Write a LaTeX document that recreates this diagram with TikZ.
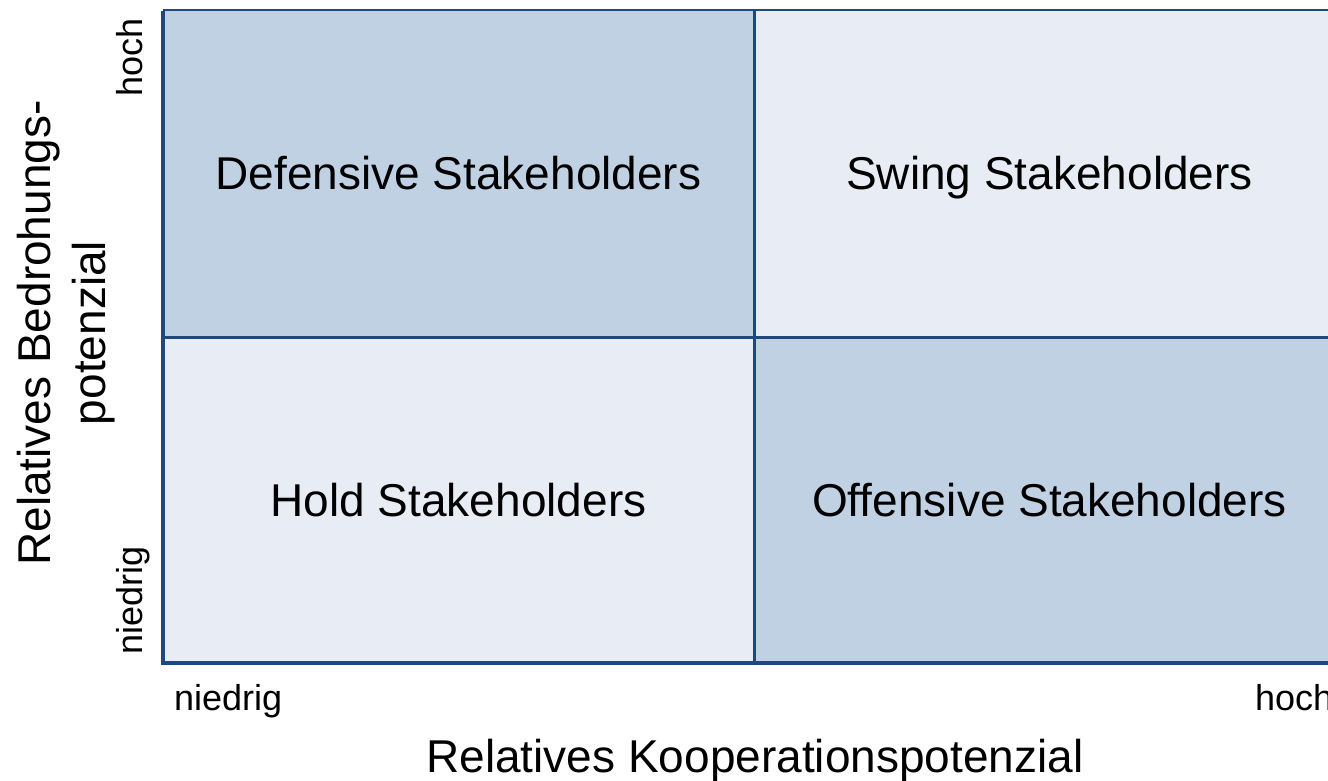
\documentclass[tikz,border=0pt]{standalone}
\usepackage{fontspec}
\setmainfont{Liberation Sans}
\definecolor{gridblue}{HTML}{1F497D}
\definecolor{celldark}{HTML}{C1D1E4}
\definecolor{celllight}{HTML}{E8EDF5}
\begin{document}
\begin{tikzpicture}[x=1pt,y=-1pt,
  celltext/.style={font=\fontsize{46}{55}\selectfont, anchor=base, inner sep=0pt},
  ticktext/.style={font=\fontsize{36}{43}\selectfont, inner sep=0pt, anchor=base west},
  axistext/.style={font=\fontsize{46}{55}\selectfont, inner sep=0pt, align=center}]
\useasboundingbox (0,0) rectangle (1328,780);
\clip (0,0) rectangle (1328,780);
% cells
\fill[celldark]  (163,10)  rectangle (754,337);
\fill[celllight] (754,10)  rectangle (1345,337);
\fill[celllight] (163,337) rectangle (754,663);
\fill[celldark]  (754,337) rectangle (1345,663);
% coordinates
\coordinate (tl) at (163,10);
\coordinate (tr) at (1345,10);
\coordinate (bl) at (163,663);
\coordinate (br) at (1345,663);
\coordinate (mt) at (754,10);
\coordinate (mb) at (754,663);
\coordinate (ml) at (163,337);
\coordinate (mr) at (1345,337);
% lines
\draw[gridblue, line width=2pt] (tl) -- (tr);
\draw[gridblue, line width=3pt] (mt) -- (mb);
\draw[gridblue, line width=3pt] (ml) -- (mr);
\draw[gridblue, line width=4pt] ([yshift=-1pt]tl) -- (bl) -- (br);
% cell texts
\node[celltext] (def) at (458.5,189.5) {Defensive Stakeholders};
\node[celltext] (swing) at (1049.5,189.5) {Swing Stakeholders};
\node[celltext] (hold) at (458.5,516.5) {Hold Stakeholders};
\node[celltext] (off) at (1049.5,516.5) {Offensive Stakeholders};
% tick labels
\node[ticktext] (xlo) at (174,710) {niedrig};
\node[ticktext] (xhi) at (1255,710) {hoch};
\node[ticktext, rotate=90] (ylo) at (142,655) {niedrig};
\node[ticktext, rotate=90] (yhi) at (142,97) {hoch};
% axis titles
\node[axistext, anchor=base] (xlab) at (755,772) {Relatives Kooperationspotenzial};
\node[axistext, rotate=90] (ylab) at (66,333) {Relatives Bedrohungs-\\potenzial};
\end{tikzpicture}
\end{document}
